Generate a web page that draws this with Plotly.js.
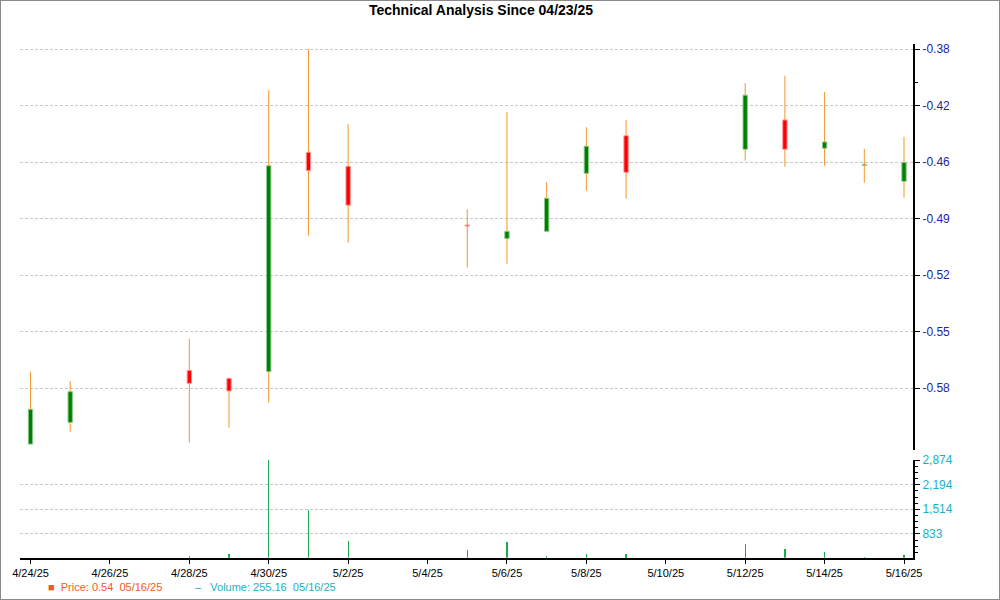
<!DOCTYPE html>
<html>
<head>
<meta charset="utf-8">
<script src="https://cdn.plot.ly/plotly-3.0.1.min.js"></script>
<style>
  html, body { margin: 0; padding: 0; background: #fff; }
  #chart { position: absolute; left: 0; top: 0; width: 1000px; height: 600px;
           box-sizing: border-box; border: 1px solid #8a8a8a; }
</style>
</head>
<body>
<div id="chart"></div>
<script>
// ---- data ----
const dates = ['2025-04-24','2025-04-25','2025-04-28','2025-04-29','2025-04-30','2025-05-01','2025-05-02',
               '2025-05-05','2025-05-06','2025-05-07','2025-05-08','2025-05-09','2025-05-12','2025-05-13',
               '2025-05-14','2025-05-15','2025-05-16'];
const openP  = [-0.6129,-0.6001,-0.5694,-0.5741,-0.5702,-0.4408,-0.4490,-0.4838,-0.4917,-0.4874,-0.4532,-0.4310,-0.4390,-0.4217,-0.4384,-0.4485,-0.4579];
const highP  = [-0.5702,-0.5757,-0.5509,-0.5741,-0.4040,-0.3800,-0.4241,-0.4744,-0.4170,-0.4583,-0.4260,-0.4217,-0.3999,-0.3956,-0.4052,-0.4388,-0.4317];
const lowP   = [-0.6129,-0.6056,-0.6121,-0.6032,-0.5885,-0.4900,-0.4941,-0.5088,-0.5065,-0.4874,-0.4634,-0.4681,-0.4457,-0.4493,-0.4487,-0.4587,-0.4676];
const closeP = [-0.5924,-0.5820,-0.5771,-0.5816,-0.4487,-0.4516,-0.4720,-0.4843,-0.4874,-0.4679,-0.4372,-0.4526,-0.4071,-0.4390,-0.4347,-0.4481,-0.4467];
const volume = [178,180,231,287,2874,1499,647,378,606,231,287,287,556,409,348,209,255.16];

const priceTickVals   = [-0.38,-0.41333,-0.44667,-0.48,-0.51333,-0.54667,-0.58];
const priceTickLabels = ['-0.38','-0.42','-0.46','-0.49','-0.52','-0.55','-0.58'];
const volumeTickVals  = [833,1514,2194,2874];

const titleText = 'Technical Analysis Since 04/23/25';
const lastPrice = '0.54';
const lastDate  = '05/16/25';
const lastVolume = '255.16';

// ---- derived structures ----
const up = closeP.map((c,i) => c >= openP[i]);
const bodyTop  = openP.map((o,i) => Math.max(o, closeP[i]));
const bodyBase = openP.map((o,i) => Math.min(o, closeP[i]));
const bodyLen  = openP.map((o,i) => Math.max(Math.abs(closeP[i]-o), 0.0006));
const wickX = [], wickY = [];
dates.forEach((d,i) => {
  wickX.push(d,d,null,d,d,null);
  wickY.push(highP[i], bodyTop[i], null, bodyBase[i], lowP[i], null);
});
const DAY = 86400000;

const traces = [
  { type:'bar', x:dates, y:bodyLen, base:bodyBase, xaxis:'x', yaxis:'y',
    width: 0.11*DAY,
    marker:{ color: up.map(u => u ? '#008000' : '#ff0000'),
             line:{ color: up.map(u => u ? '#8cc88c' : '#ff9a9a'), width:1 } } },
  { type:'scatter', mode:'lines', x:wickX, y:wickY, xaxis:'x', yaxis:'y',
    line:{color:'#f0962e', width:1}, hoverinfo:'skip', connectgaps:false },
  { type:'bar', x:dates, y:volume, xaxis:'x', yaxis:'y2', width:0.032*DAY,
    marker:{ color:'#1aac4c', line:{width:0} } }
];

const gridDash = '3px,2px';
const layout = {
  width: 998, height: 598,
  margin: {l:0, r:0, t:0, b:0},
  paper_bgcolor:'#ffffff', plot_bgcolor:'#ffffff',
  showlegend:false, barmode:'overlay', bargap:0,
  font:{family:'Liberation Sans, Arial, sans-serif', size:11, color:'#000'},
  title:{ text:titleText, x:480/998, xref:'paper', xanchor:'center',
          y:1-9/598, yref:'container', yanchor:'middle',
          font:{size:14, weight:'bold', color:'#000', family:'Liberation Sans, Arial, sans-serif'} },
  xaxis:{ type:'date', domain:[19/998, 912/998], anchor:'y2',
          range:['2025-04-23 17:39','2025-05-16 05:26'],
          tick0:'2025-04-24', dtick:2*DAY, tickformat:'%-m/%-d/%y',
          ticks:'outside', ticklen:4, tickcolor:'#000', tickwidth:1,
          showline:true, linecolor:'#000', linewidth:2, showgrid:false, zeroline:false,
          tickfont:{size:11, color:'#000'} },
  yaxis:{ domain:[1-449/598, 1-43/598], anchor:'x', side:'right',
          range:[-0.6164, -0.3769], tickmode:'array', tickvals:priceTickVals, ticktext:priceTickLabels,
          ticks:'outside', ticklen:5, tickcolor:'#000', tickwidth:1,
          showline:true, linecolor:'#000', linewidth:2, zeroline:false,
          showgrid:true, gridcolor:'#c8c8c8', gridwidth:1, griddash:gridDash,
          minor:{ tickmode:'array', tickvals:[-0.3995], ticks:'outside', ticklen:3, tickcolor:'#000', showgrid:false },
          tickfont:{size:12, color:'#2424a8'} },
  yaxis2:{ domain:[1-556.7/598, 1-459/598], anchor:'x', side:'right',
          range:[178, 2874], tickmode:'array', tickvals:volumeTickVals, tickformat:',d',
          ticks:'outside', ticklen:5, tickcolor:'#000', tickwidth:1,
          showline:true, linecolor:'#000', linewidth:2, zeroline:false,
          showgrid:true, gridcolor:'#c8c8c8', gridwidth:1, griddash:gridDash,
          minor:{ tick0:153, dtick:170, ticks:'outside', ticklen:3, tickcolor:'#000', showgrid:false },
          tickfont:{size:12, color:'#1ab0c0'} },
  annotations:[
    { xref:'paper', yref:'paper', x:45/998, y:1-586/598, xanchor:'left', yanchor:'middle', showarrow:false,
      text:'■\u00a0 Price: ' + lastPrice + '\u00a0\u00a0' + lastDate,
      font:{size:11, color:'#f05a24'} },
    { xref:'paper', yref:'paper', x:192/998, y:1-586/598, xanchor:'left', yanchor:'middle', showarrow:false,
      text:'–\u00a0\u00a0 Volume: ' + lastVolume + '\u00a0\u00a0' + lastDate,
      font:{size:11, color:'#1ab0c0'} }
  ]
};

Plotly.newPlot('chart', traces, layout, {displayModeBar:false, staticPlot:true});
</script>
</body>
</html>
